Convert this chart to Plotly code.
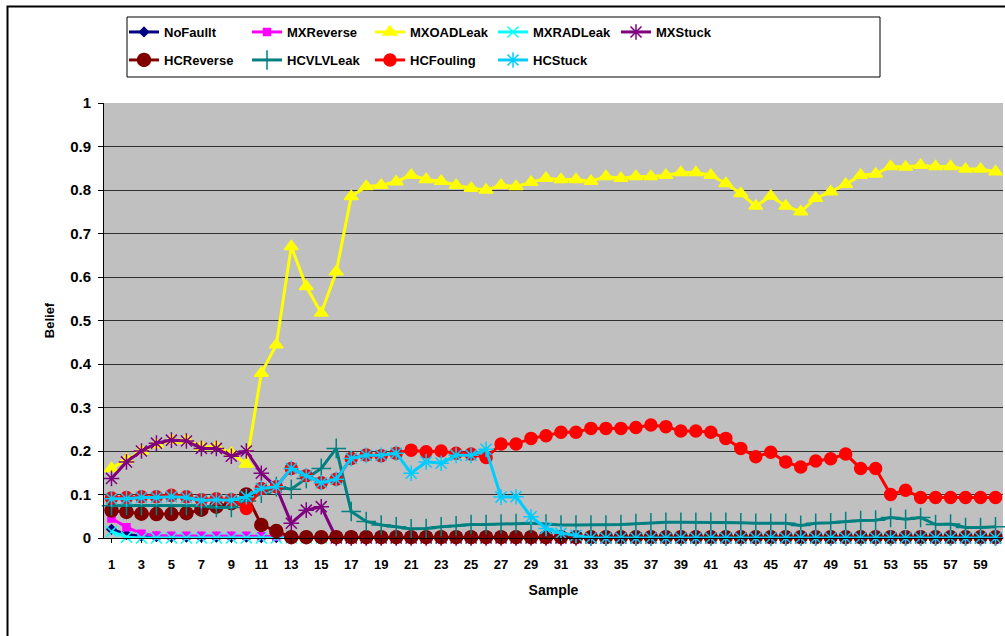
import plotly.graph_objects as go

samples = list(range(1, 61))

no_faullt = [0.02, 0.008, 0.004, 0.003, 0.002, 0.002, 0.002, 0.002, 0.002, 0.002,
             0.001, 0.001] + [0.0] * 48

mx_reverse = [0.045, 0.025, 0.01, 0.006, 0.005, 0.005, 0.005, 0.005, 0.005, 0.005,
              0.004, 0.003, 0.002, 0.001] + [0.0] * 46

mx_oad_leak = [0.16, 0.18, 0.2, 0.215, 0.225, 0.225, 0.21, 0.21, 0.195, 0.17,
               0.379, 0.444, 0.67, 0.578, 0.517, 0.612, 0.785, 0.808, 0.811, 0.819,
               0.834, 0.824, 0.82, 0.811, 0.804, 0.80, 0.811, 0.808, 0.818, 0.827,
               0.824, 0.824, 0.82, 0.831, 0.827, 0.831, 0.831, 0.834, 0.84, 0.84,
               0.834, 0.815, 0.792, 0.763, 0.786, 0.763, 0.75, 0.781, 0.796, 0.813,
               0.834, 0.837, 0.854, 0.853, 0.857, 0.854, 0.854, 0.848, 0.848, 0.842]

mx_rad_leak = [0.015, 0.002] + [0.0] * 58

mx_stuck = [0.137, 0.175, 0.2, 0.218, 0.225, 0.223, 0.206, 0.206, 0.188, 0.2,
            0.149, 0.117, 0.034, 0.064, 0.072] + [0.0] * 45

hc_reverse = [0.063, 0.06, 0.056, 0.055, 0.055, 0.057, 0.065, 0.072, 0.08, 0.1,
              0.03, 0.016] + [0.002] * 48

hc_vlv_leak = [0.074, 0.075, 0.075, 0.075, 0.075, 0.075, 0.074, 0.07, 0.07, 0.085,
               0.103, 0.118, 0.112, 0.137, 0.16, 0.206, 0.061, 0.038, 0.03, 0.026,
               0.021, 0.022, 0.026, 0.028, 0.031, 0.031, 0.032, 0.033, 0.034, 0.032,
               0.03, 0.03, 0.03, 0.03, 0.031, 0.033, 0.035, 0.036, 0.036, 0.036,
               0.036, 0.036, 0.035, 0.034, 0.034, 0.034, 0.029, 0.034, 0.035, 0.038,
               0.04, 0.041, 0.047, 0.043, 0.047, 0.031, 0.032, 0.024, 0.024, 0.026]

hc_fouling = [0.092, 0.093, 0.095, 0.095, 0.098, 0.095, 0.088, 0.09, 0.088, 0.068,
              0.114, 0.118, 0.16, 0.143, 0.127, 0.135, 0.183, 0.191, 0.189, 0.195,
              0.202, 0.198, 0.2, 0.195, 0.193, 0.185, 0.216, 0.216, 0.229, 0.235,
              0.243, 0.243, 0.252, 0.252, 0.252, 0.254, 0.26, 0.256, 0.246, 0.246,
              0.243, 0.229, 0.206, 0.187, 0.197, 0.175, 0.163, 0.177, 0.182, 0.193,
              0.16, 0.16, 0.1, 0.11, 0.093, 0.093, 0.093, 0.093, 0.093, 0.093]

hc_stuck = [0.09, 0.09, 0.093, 0.093, 0.095, 0.093, 0.086, 0.088, 0.087, 0.095,
            0.114, 0.118, 0.16, 0.143, 0.127, 0.135, 0.183, 0.19, 0.19, 0.195,
            0.149, 0.175, 0.172, 0.19, 0.19, 0.204, 0.094, 0.095, 0.049, 0.022,
            0.011, 0.006] + [0.0] * 28

x_tick_labels = [str(s) for s in range(1, 60, 2)]

# name, values, colour, marker symbol, marker size, legend
series = [
    ("NoFaullt", no_faullt, "#000080", "diamond", 7, "legend"),
    ("MXReverse", mx_reverse, "#FF00FF", "square", 7, "legend"),
    ("MXOADLeak", mx_oad_leak, "#FFFF00", "triangle-up", 12, "legend"),
    ("MXRADLeak", mx_rad_leak, "#00FFFF", "x-thin-open", 11, "legend"),
    ("MXStuck", mx_stuck, "#800080", "asterisk-open", 13, "legend"),
    ("HCReverse", hc_reverse, "#800000", "circle", 13, "legend2"),
    ("HCVLVLeak", hc_vlv_leak, "#008080", "cross-thin-open", 14, "legend2"),
    ("HCFouling", hc_fouling, "#FF0000", "circle", 12, "legend2"),
    ("HCStuck", hc_stuck, "#00CCFF", "asterisk-open", 13, "legend2"),
]

fig = go.Figure()
for name, vals, color, symbol, size, leg in series:
    fig.add_trace(go.Scatter(
        x=samples, y=vals, name=name, mode="lines+markers",
        line=dict(color=color, width=3),
        marker=dict(symbol=symbol, size=size, color=color,
                    line=dict(color=color, width=1.5)),
        cliponaxis=False, legend=leg))

FAMILY = "Liberation Sans, Arial, sans-serif"
bold = dict(family=FAMILY, size=13, color="black", weight="bold")
legend_font = dict(family=FAMILY, size=13, color="black", weight="bold")
xtick_font = dict(family=FAMILY, size=13, color="black", weight="bold")
ytick_font = dict(family=FAMILY, size=15, color="black", weight="bold")


# pixel -> paper helpers (plot area: x 104..1003, y 103..538)
def px(x):
    return (x - 104) / 899


def py(y):
    return (538 - y) / 435


fig.update_layout(
    width=1005, height=636,
    margin=dict(l=104, r=2, t=103, b=98),
    paper_bgcolor="white", plot_bgcolor="#C0C0C0",
    font=bold,
    legend=dict(orientation="h", x=px(124), y=py(17), xanchor="left", yanchor="top",
                entrywidth=78, entrywidthmode="pixels", font=legend_font,
                bgcolor="rgba(0,0,0,0)", itemwidth=30, tracegroupgap=0),
    legend2=dict(orientation="h", x=px(124), y=py(45), xanchor="left", yanchor="top",
                 entrywidth=78, entrywidthmode="pixels", font=legend_font,
                 bgcolor="rgba(0,0,0,0)", itemwidth=30, tracegroupgap=0),
    shapes=[
        dict(type="rect", xref="paper", yref="paper",
             x0=px(127), x1=px(880), y0=py(77), y1=py(17),
             line=dict(color="black", width=1)),
        dict(type="rect", xref="paper", yref="paper",
             x0=px(7.5), x1=px(1012), y0=py(645), y1=py(6.5),
             line=dict(color="black", width=2)),
    ],
)

fig.update_xaxes(
    range=[0.5, 60.5], tickmode="array",
    tickvals=list(range(1, 60, 2)), ticktext=x_tick_labels,
    ticks="outside", ticklen=4, tickcolor="black", ticklabelstandoff=10,
    showline=True, linecolor="black", linewidth=1, showgrid=False, zeroline=False,
    tickfont=xtick_font,
    title=dict(text="Sample", font=dict(bold, size=14), standoff=14))

fig.update_yaxes(
    range=[0, 1], dtick=0.1, tickformat="~g",
    ticks="outside", ticklen=5, tickcolor="black", ticklabelstandoff=4,
    showline=True, linecolor="black", linewidth=1,
    showgrid=True, gridcolor="#303030", gridwidth=1, zeroline=False,
    tickfont=ytick_font,
    title=dict(text="Belief", font=bold, standoff=12))

fig.write_html("out.html", config={"displayModeBar": False},
               post_script="document.body.style.margin='0';")
